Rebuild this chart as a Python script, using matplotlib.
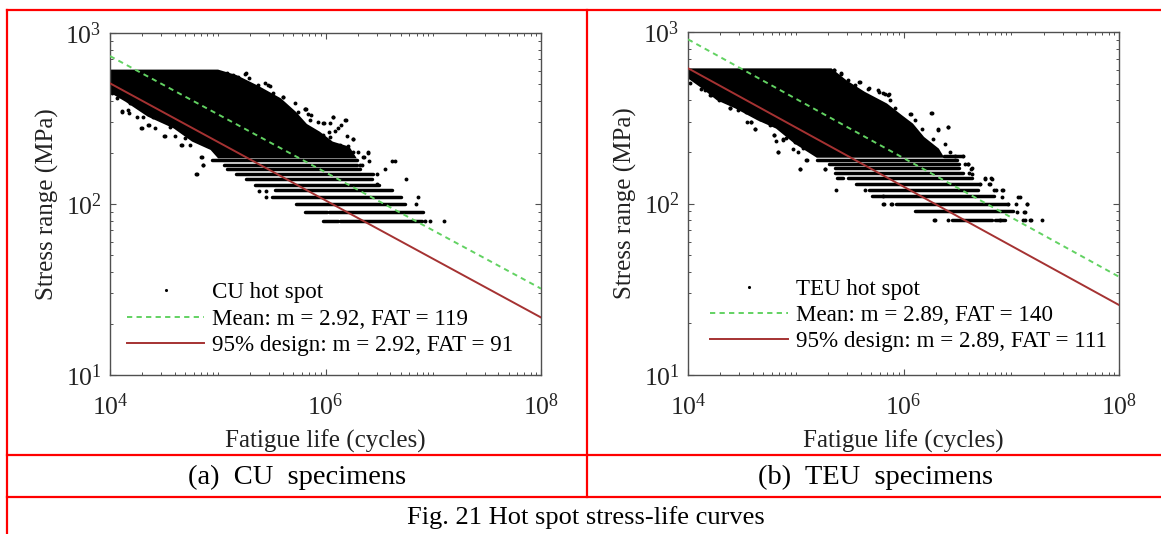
import numpy as np
import matplotlib.pyplot as plt
from matplotlib.lines import Line2D

plt.rcParams['font.family'] = ['Liberation Serif', 'DejaVu Serif']
plt.rcParams['mathtext.fontset'] = 'custom'
plt.rcParams['mathtext.rm'] = 'Liberation Serif'

W, H = 1161, 534

# all cloud values are log10(cycles) / log10(MPa)
# outline of the solid part of the cloud
cu_cloud_life = [4.00, 5.003, 5.174, 5.380, 5.586, 5.724, 5.827, 5.947, 6.067, 6.222, 6.290,
                 5.003, 4.934, 4.762, 4.591, 4.350, 4.144, 4.00]
cu_cloud_stress = [2.786, 2.786, 2.754, 2.690, 2.618, 2.540, 2.468, 2.423, 2.365, 2.335, 2.267,
                   2.267, 2.316, 2.365, 2.442, 2.511, 2.598, 2.651]
teu_cloud_life = [4.00, 5.332, 5.470, 5.641, 5.847, 5.985, 6.088, 6.191, 6.328, 6.379,
                  5.195, 4.989, 4.817, 4.645, 4.440, 4.268, 4.130, 4.00]
teu_cloud_stress = [2.788, 2.788, 2.719, 2.651, 2.583, 2.515, 2.466, 2.388, 2.320, 2.267,
                    2.267, 2.349, 2.437, 2.485, 2.554, 2.602, 2.671, 2.729]

# rows of points at the low stress levels (MPa, from, to)
cu_row_stress = [180, 170, 160, 150, 140, 130, 120, 110, 100, 90, 90, 80, 80]
cu_row_from = [4.951, 5.054, 5.088, 5.174, 5.260, 5.346, 5.535, 5.500, 5.724, 5.809, 6.033, 5.981, 6.136]
cu_row_to = [6.290, 6.290, 6.324, 6.445, 6.427, 6.496, 6.616, 6.702, 6.737, 6.015, 6.908, 6.118, 6.891]
teu_row_stress = [190, 180, 170, 160, 150, 140, 140, 130, 120, 110, 100, 90, 80, 80]
teu_row_from = [6.379, 5.195, 5.305, 5.367, 5.367, 5.384, 5.487, 5.555, 5.676, 5.710, 5.933, 6.107, 6.447, 6.850]
teu_row_to = [6.551, 6.500, 6.517, 6.517, 6.551, 5.435, 6.637, 6.706, 6.688, 6.843, 6.970, 7.020, 6.818, 6.942]

# single points outside the solid part
cu_life = [4.797, 4.865, 4.110, 4.179, 4.288, 4.361, 4.505, 4.659, 4.848, 6.616, 6.644, 6.747, 6.857,
           6.840, 7.097, 6.967, 6.925, 6.393, 6.359, 6.324, 6.548, 6.479, 6.479, 6.187, 6.067, 6.118,
           5.981, 6.033, 6.256, 5.260, 5.294, 5.466, 5.603, 5.809, 5.861, 5.380, 5.449, 5.449,
           5.253, 5.145, 5.377, 5.439, 5.485, 5.299, 5.408, 5.516, 5.609, 5.717, 5.810, 5.748, 5.856,
           5.562, 5.191, 5.083,
           4.015, 4.062, 4.108, 4.170, 4.247, 4.294, 4.356, 4.418, 4.510, 4.603, 4.665, 4.742, 4.851,
           4.866, 4.804, 4.309, 4.186, 4.402, 4.557, 4.696,
           5.816, 5.840, 6.072, 6.181, 6.041, 5.986, 6.140, 5.933, 6.088, 6.196, 6.252, 6.212, 6.304,
           6.391, 6.351, 6.403, 6.335, 6.258, 6.134, 6.041, 5.980]
cu_stress = [2.175, 2.230, 2.544, 2.530, 2.446, 2.462, 2.398, 2.345, 2.277, 2.253, 2.253, 2.146, 2.039,
             1.998, 1.903, 1.903, 1.903, 2.300, 2.277, 2.228, 2.203, 2.177, 2.115, 2.491, 2.507, 2.442,
             2.476, 2.423, 2.378, 2.764, 2.735, 2.696, 2.628, 2.556, 2.520, 2.078, 2.078, 2.039,
             2.760, 2.754, 2.696, 2.706, 2.690, 2.682, 2.657, 2.647, 2.628, 2.592, 2.553, 2.540, 2.491,
             2.598, 2.745, 2.768,
             2.647, 2.618, 2.540, 2.550, 2.507, 2.446, 2.462, 2.446, 2.398, 2.398, 2.345, 2.345, 2.277,
             2.228, 2.175, 2.511, 2.589, 2.511, 2.452, 2.384,
             2.555, 2.526, 2.507, 2.491, 2.475, 2.475, 2.462, 2.481, 2.429, 2.397, 2.378, 2.339, 2.302,
             2.302, 2.277, 2.253, 2.228, 2.306, 2.345, 2.394, 2.403]
teu_life = [5.373, 5.641, 6.259, 6.318, 6.414, 6.064, 5.590, 5.418, 5.353, 5.676, 5.761, 5.864, 5.040,
            5.270, 5.099, 4.834, 4.618, 4.543, 4.584, 4.388, 4.206, 4.800, 4.886, 7.066, 7.142, 7.042,
            7.118, 7.289, 7.176, 7.111, 6.283, 5.813, 5.881, 6.757, 6.808, 6.791, 6.912, 6.843, 6.603,
            6.568, 6.610, 6.630,
            4.015, 4.124, 4.210, 4.285, 4.387, 4.464, 4.541, 4.588, 4.619, 4.418, 4.798, 4.820, 4.882,
            4.913, 4.835, 4.974, 5.021, 5.067, 5.129, 5.107, 5.036, 5.268, 4.758, 4.665, 4.990, 4.263, 4.155,
            5.355, 5.423, 5.593, 5.671, 5.770, 5.825, 5.485, 5.547,
            5.813, 5.859, 5.875, 5.921, 6.067, 6.262, 6.416, 6.323, 6.107, 6.169, 6.277, 6.385, 6.432,
            6.478, 6.555, 6.602, 6.633, 6.633, 6.756, 6.818, 6.710, 6.803, 6.855, 6.927, 7.081, 6.911,
            7.143, 6.973, 7.128, 7.050, 6.292, 6.416, 7.128, 7.183, 6.896, 5.819, 5.890, 5.813]
teu_stress = [2.078, 2.078, 2.530, 2.433, 2.446, 2.519, 2.710, 2.762, 2.780, 2.676, 2.661, 2.641, 2.203,
              2.203, 2.255, 2.300, 2.433, 2.476, 2.476, 2.559, 2.635, 2.398, 2.378, 2.039, 2.000, 2.000,
              1.953, 1.901, 1.901, 1.901, 1.901, 2.000, 2.000, 2.146, 2.146, 2.113, 2.078, 2.078, 2.228,
              2.228, 2.175, 2.203,
              2.700, 2.670, 2.635, 2.606, 2.557, 2.544, 2.534, 2.477, 2.432, 2.583, 2.397, 2.362, 2.368,
              2.384, 2.300, 2.319, 2.300, 2.325, 2.319, 2.255, 2.202, 2.202, 2.456, 2.495, 2.358, 2.657, 2.661,
              2.778, 2.758, 2.709, 2.670, 2.651, 2.641, 2.719, 2.690,
              2.645, 2.632, 2.603, 2.554, 2.521, 2.530, 2.447, 2.431, 2.486, 2.437, 2.378, 2.345, 2.300,
              2.277, 2.277, 2.232, 2.209, 2.174, 2.144, 2.144, 2.111, 2.111, 2.080, 2.080, 2.037, 2.037,
              1.998, 1.998, 1.949, 1.949, 1.901, 1.901, 1.901, 1.901, 1.901, 1.998, 1.998, 2.041]

# fitted lines, ends at 1e4 and 1e8 cycles
line_life = [1e4, 1e8]
cu_mean = [733, 32]
cu_design = [508, 21.7]
teu_mean = [906, 37.4]
teu_design = [615, 25.6]

cu_labels = ['CU hot spot', 'Mean: m = 2.92, FAT = 119', '95% design: m = 2.92, FAT = 91']
teu_labels = ['TEU hot spot', 'Mean: m = 2.89, FAT = 140', '95% design: m = 2.89, FAT = 111']

x_major = [1e4, 1e6, 1e8]
x_labels = [r'$\mathregular{10^{4}}$', r'$\mathregular{10^{6}}$', r'$\mathregular{10^{8}}$']
y_major = [1e1, 1e2, 1e3]
y_labels = [r'$\mathregular{10^{1}}$', r'$\mathregular{10^{2}}$', r'$\mathregular{10^{3}}$']

BLACK = '#000000'
GREEN = '#62d262'
RED = '#a53232'
GREY = '#505050'


def panel(rect, cl, cs, rs, rf, rt, life, stress, mean, design, labels, leg_xy):
    ax = fig.add_axes([rect[0] / W, 1 - rect[3] / H, (rect[2] - rect[0]) / W, (rect[3] - rect[1]) / H])
    ax.fill(10 ** np.array(cl), 10 ** np.array(cs), color=BLACK, lw=0, zorder=2)
    ax.hlines(rs, 10 ** np.array(rf), 10 ** np.array(rt), color=BLACK, lw=2.5, capstyle='round', zorder=2)
    ax.plot(10 ** np.array(life), 10 ** np.array(stress), 'o', color=BLACK, ms=2.8, mew=0, zorder=2, label=labels[0])
    ax.plot(line_life, mean, '--', color=GREEN, lw=1.4, dashes=(2.7, 2.2), zorder=3, label=labels[1])
    ax.plot(line_life, design, '-', color=RED, lw=1.4, zorder=3, label=labels[2])
    ax.set_xscale('log')
    ax.set_yscale('log')
    ax.set_xlim(1e4, 1e8)
    ax.set_ylim(10, 1000)
    ax.set_xticks(x_major, x_labels)
    ax.set_yticks(y_major, y_labels)
    ax.xaxis.set_minor_locator(plt.LogLocator(base=10, subs=np.arange(1, 10), numticks=20))
    ax.yaxis.set_minor_locator(plt.LogLocator(base=10, subs=np.arange(2, 10), numticks=20))
    ax.xaxis.set_minor_formatter(plt.NullFormatter())
    ax.yaxis.set_minor_formatter(plt.NullFormatter())
    ax.tick_params(which='major', direction='in', top=True, right=True, length=4.5, width=0.8,
                   color=GREY, labelsize=18.5, labelcolor='#222222')
    ax.tick_params(which='minor', direction='in', top=True, right=True, length=2.2, width=0.7, color=GREY)
    ax.tick_params(axis='x', which='major', pad=13)
    ax.tick_params(axis='y', which='major', pad=6)
    for s in ax.spines.values():
        s.set_color(GREY)
        s.set_linewidth(1.0)
    ax.set_xlabel('Fatigue life (cycles)', fontsize=18, color='#222222', labelpad=7)
    ax.set_ylabel('Stress range (MPa)', fontsize=18, color='#222222', labelpad=5)
    ax.legend(loc='lower left', bbox_to_anchor=leg_xy, frameon=False, fontsize=16.6, numpoints=1,
              markerscale=0.8, handlelength=3.36, handletextpad=0.35, labelspacing=0.22,
              borderpad=0, borderaxespad=0)
    return ax


fig = plt.figure(figsize=(W / 100, H / 100), dpi=100)

panel((110, 33, 541, 375), cu_cloud_life, cu_cloud_stress, cu_row_stress, cu_row_from, cu_row_to,
      cu_life, cu_stress, cu_mean, cu_design, cu_labels, (0.039, 0.056))
panel((688, 32, 1119, 375), teu_cloud_life, teu_cloud_stress, teu_row_stress, teu_row_from, teu_row_to,
      teu_life, teu_stress, teu_mean, teu_design, teu_labels, (0.0515, 0.066))

# table around the two panels
for x0, y0, x1, y1 in [(7, 10, 7, H), (7, 10, W, 10), (587, 10, 587, 497), (7, 455, W, 455), (7, 497, W, 497)]:
    fig.add_artist(Line2D([x0 / W, x1 / W], [1 - y0 / H, 1 - y1 / H], color='#ff0000', lw=1.6))

fig.text(297 / W, 1 - 477 / H, '(a)  CU  specimens', fontsize=20.5, ha='center', va='center')
fig.text(876 / W, 1 - 477 / H, '(b)  TEU  specimens', fontsize=20.5, ha='center', va='center')
fig.text(586 / W, 1 - 518 / H, 'Fig. 21 Hot spot stress-life curves', fontsize=19, ha='center', va='center')

fig.savefig('out.png', dpi=100)
